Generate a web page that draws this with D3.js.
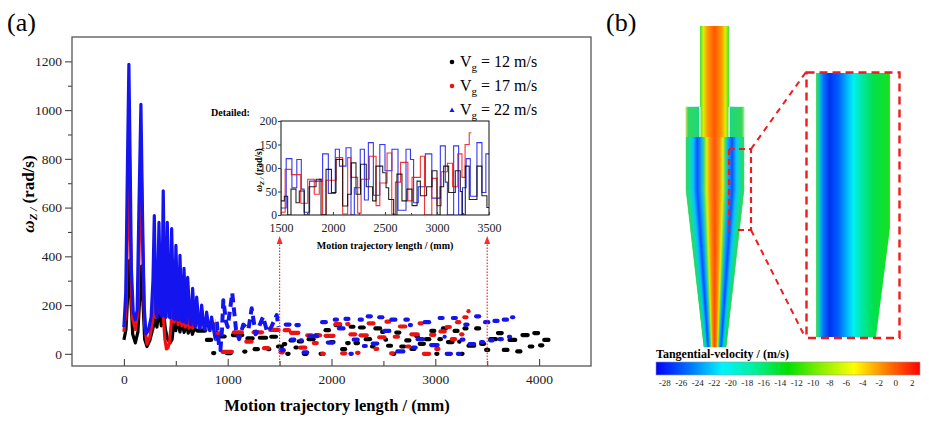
<!DOCTYPE html>
<html>
<head>
<meta charset="UTF-8">
<title>Particle angular velocity and tangential velocity</title>
<script src="https://d3js.org/d3.v7.min.js"></script>
<style>
  body { margin: 0; padding: 0; background: #fff; }
  svg { display: block; font-family: "Liberation Serif", "Times New Roman", serif; }
</style>
</head>
<body>
<script>
// ---- data ----
// smooth start of each trajectory (mm, rad/s)
const early12 = [[0,57],[20,100],[38,250],[55,384],[70,200],[85,80],[110,45],[135,90],[155,250],[170,360],[185,200],[200,60],[222,30],[250,55],[280,105],[300,140],[318,110],[340,185],[360,115],[380,180],[400,100],[420,60],[445,45],[465,60],[485,150],[500,95],[520,145],[540,90],[560,135],[580,88],[600,125],[620,85],[640,115],[660,80],[680,105],[700,95]];
const early17 = [[0,90],[20,180],[38,600],[50,930],[62,500],[80,150],[110,100],[135,170],[152,550],[165,830],[180,450],[200,120],[222,40],[250,70],[280,140],[295,250],[312,150],[330,290],[345,170],[362,300],[380,150],[395,60],[410,20],[425,25],[440,50],[455,120],[470,250],[485,130],[505,230],[522,120],[540,200],[558,115],[575,180],[592,110],[610,165],[628,105],[645,150],[662,105],[680,140],[700,120]];
const early22 = [[0,110],[18,250],[35,800],[48,1188],[60,800],[72,350],[90,170],[110,140],[128,180],[145,600],[164,1024],[180,550],[195,200],[212,82],[235,95],[262,150],[280,300],[293,567],[308,170],[320,150],[338,539],[355,160],[365,155],[379,669],[395,155],[405,150],[418,539],[438,150],[445,148],[460,514],[480,145],[488,142],[501,445],[520,140],[528,138],[540,404],[560,135],[566,132],[579,351],[597,128],[603,126],[614,314],[640,122],[648,120],[662,269],[683,115],[690,112],[701,233],[725,108],[735,105],[749,200],[772,102],[782,100],[797,171],[820,98],[830,95],[845,151],[868,90],[880,60],[893,139],[915,40],[930,16],[945,100],[958,220],[985,130],[1000,110],[1044,249],[1080,100],[1110,60],[1150,120],[1200,100],[1231,187],[1270,80],[1300,110],[1341,152],[1380,90],[1420,110],[1472,159],[1490,110]];

// plateau levels later on: value holds from x until the next x
const wave12 = [[700,95],[790,57],[850,3],[880,71],[980,3],[1040,77],[1150,9],[1180,63],[1250,19],[1300,66],[1380,19],[1410,70],[1475,30],[1532,40],[1564,0],[1596,55],[1644,26],[1676,51],[1724,0],[1770,60],[1837,76],[1885,0],[1933,97],[1985,48],[2029,118],[2093,19],[2141,44],[2175,111],[2221,44],[2265,108],[2320,60],[2381,30],[2413,104],[2478,90],[2510,58],[2535,33],[2583,0],[2615,87],[2663,30],[2711,55],[2760,20],[2808,72],[2840,41],[2900,60],[2952,94],[3000,0],[3030,60],[3064,104],[3112,48],[3176,94],[3224,50],[3240,0],[3272,104],[3310,33],[3384,104],[3432,41],[3480,16],[3520,60],[3594,85],[3650,16],[3705,57],[3780,10],[3830,77],[3900,30],[3944,85],[4000,35],[4040,57],[4100,57]];
const wave17 = [[720,125],[800,122],[870,84],[940,8],[1050,88],[1170,50],[1240,88],[1340,23],[1400,98],[1500,6],[1540,97],[1600,86],[1690,25],[1757,76],[1820,44],[1868,76],[1900,0],[1933,74],[2029,122],[2093,2],[2141,122],[2173,80],[2237,4],[2270,76],[2349,125],[2414,20],[2450,68],[2520,132],[2565,2],[2600,70],[2650,112],[2720,30],[2760,80],[2840,125],[2880,0],[2950,78],[3000,20],[3040,92],[3100,110],[3150,60],[3200,130],[3240,80],[3270,150],[3310,175],[3330,175]];
const wave22 = [[1500,15],[1550,120],[1605,58],[1652,118],[1695,55],[1722,6],[1775,72],[1900,130],[1955,46],[2022,140],[2062,104],[2125,143],[2173,0],[2205,58],[2262,140],[2302,32],[2340,154],[2388,42],[2450,150],[2500,94],[2567,140],[2625,10],[2702,140],[2745,118],[2775,26],[2820,60],[2888,130],[2950,36],[3032,147],[3080,70],[3100,0],[3160,147],[3208,0],[3245,58],[3280,120],[3320,40],[3384,154],[3432,48],[3470,130],[3520,55],[3560,135],[3610,60],[3650,140],[3700,70],[3730,150],[3760,150]];

const speeds = ["12", "17", "22"];
const colors = ["#000000", "#ee1111", "#1414ee"];

const xTicks = [0, 1000, 2000, 3000, 4000];
const xMinor = [500, 1500, 2500, 3500];
const yTicks = [0, 200, 400, 600, 800, 1000, 1200];
const yMinor = [100, 300, 500, 700, 900, 1100];
const insetXTicks = [1500, 2000, 2500, 3000, 3500];
const insetXMinor = [1750, 2250, 2750, 3250];
const insetYTicks = [0, 50, 100, 150, 200];

const cbTicks = [-28, -26, -24, -22, -20, -18, -16, -14, -12, -10, -8, -6, -4, -2, 0, 2];
const cbStops = [[-29,"#0000ff"],[-25,"#0070ff"],[-21,"#00f4ff"],[-17,"#00f09a"],[-13,"#00e000"],[-9,"#88f000"],[-5,"#ffff00"],[-1,"#ff7a00"],[3,"#ff0000"]];
const bodyStops = [[0,"#30d050"],[0.07,"#00e0a0"],[0.13,"#00c0ff"],[0.2,"#0048ff"],[0.27,"#00a8ff"],[0.32,"#40e060"],[0.36,"#e0f000"],[0.42,"#ff8a00"],[0.5,"#ff4a00"],[0.58,"#ff8a00"],[0.64,"#e0f000"],[0.68,"#40e060"],[0.73,"#00a8ff"],[0.8,"#0048ff"],[0.87,"#00c0ff"],[0.93,"#00e0a0"],[1,"#30d050"]];
const tubeStops = [[0,"#40e040"],[0.12,"#d8f000"],[0.26,"#ff9800"],[0.5,"#ff5800"],[0.74,"#ff9800"],[0.88,"#d8f000"],[1,"#40e040"]];
const zoomStops = [[0,"#60d840"],[0.04,"#00d0d0"],[0.1,"#0070ff"],[0.18,"#0034f0"],[0.3,"#0060ff"],[0.44,"#00c8ff"],[0.5,"#00f0f0"],[0.62,"#00e8a0"],[0.76,"#00e050"],[0.97,"#18e020"],[1,"#f0a000"]];

const width = 929, height = 423;
const serif = "Liberation Serif, Times New Roman, serif";
const plain = d => String(d);

const svg = d3.select("body").append("svg")
  .attr("width", width)
  .attr("height", height);

const defs = svg.append("defs");

// ---- panel (a) ----
const x = d3.scaleLinear().domain([-500, 4500]).range([72, 591]);
const y = d3.scaleLinear().domain([-50, 1300]).range([366, 37]);

defs.append("clipPath").attr("id", "solidPart").append("rect")
  .attr("x", 72).attr("y", 37).attr("width", x(880) - 72).attr("height", 329);
defs.append("clipPath").attr("id", "dashPart").append("rect")
  .attr("x", x(880)).attr("y", 37).attr("width", 591 - x(880)).attr("height", 329);

function styleAxis(g, size) {
  g.attr("font-family", serif);
  g.select(".domain").remove();
  g.selectAll(".tick line").attr("stroke", "#444").attr("stroke-width", 1.1);
  g.selectAll(".tick text").attr("font-size", size).attr("fill", "#222");
}

svg.append("g").attr("transform", "translate(0,366)")
  .call(d3.axisBottom(x).tickValues(xTicks).tickFormat(plain).tickSize(-7).tickPadding(8))
  .call(g => styleAxis(g, 13.5));
svg.append("g").attr("transform", "translate(0,366)")
  .call(d3.axisBottom(x).tickValues(xMinor).tickSize(-5).tickFormat(""))
  .call(g => styleAxis(g, 13.5));
svg.append("g").attr("transform", "translate(72,0)")
  .call(d3.axisLeft(y).tickValues(yTicks).tickFormat(plain).tickSize(7).tickPadding(3))
  .call(g => styleAxis(g, 13.5));
svg.append("g").attr("transform", "translate(72,0)")
  .call(d3.axisLeft(y).tickValues(yMinor).tickSize(4).tickFormat(""))
  .call(g => styleAxis(g, 13.5));

const series = [
  { early: early12, wave: wave12 },
  { early: early17, wave: wave17 },
  { early: early22, wave: wave22 }
];

const lineMain = d3.line().x(d => x(d[0])).y(d => y(d[1]));

series.forEach((s, i) => {
  const g = svg.append("g");
  g.append("path").datum(s.early)
    .attr("d", lineMain)
    .attr("clip-path", "url(#solidPart)")
    .attr("fill", "none").attr("stroke", colors[i])
    .attr("stroke-width", 3.2).attr("stroke-linejoin", "round");
  g.append("path").datum(s.early)
    .attr("d", lineMain)
    .attr("clip-path", "url(#dashPart)")
    .attr("fill", "none").attr("stroke", colors[i])
    .attr("stroke-width", 4).attr("stroke-dasharray", "9,5")
    .attr("stroke-linejoin", "round");
  g.selectAll("line.plateau")
    .data(d3.pairs(s.wave))
    .join("line")
    .attr("class", "plateau")
    .attr("x1", d => x(d[0][0]) + 1)
    .attr("x2", d => x(d[1][0]) - 1)
    .attr("y1", d => y(d[0][1]))
    .attr("y2", d => y(d[0][1]))
    .attr("stroke", colors[i])
    .attr("stroke-width", 4.2)
    .attr("stroke-linecap", "round")
    .attr("stroke-dasharray", d => x(d[1][0]) - x(d[0][0]) > 12 ? "8,5" : null);
});

// frame
svg.append("rect")
  .attr("x", 72).attr("y", 37).attr("width", 519).attr("height", 329)
  .attr("fill", "none").attr("stroke", "#555").attr("stroke-width", 1.3);

// red dotted arrows marking the detailed range
[1500, 3500].forEach(v => {
  svg.append("line")
    .attr("x1", x(v)).attr("x2", x(v))
    .attr("y1", 366).attr("y2", 242)
    .attr("stroke", "#ff2a2a").attr("stroke-width", 1.2)
    .attr("stroke-dasharray", "1.5,1.5");
  svg.append("path")
    .attr("d", `M${x(v) - 3},${244} L${x(v) + 3},${244} L${x(v)},${236} Z`)
    .attr("fill", "#ff2a2a");
});

// axis titles
svg.append("text")
  .attr("x", 337).attr("y", 411)
  .attr("text-anchor", "middle")
  .attr("font-size", 16.5).attr("font-weight", "bold")
  .text("Motion trajectory length / (mm)");

const yTitle = svg.append("text")
  .attr("transform", "translate(34,194) rotate(-90)")
  .attr("text-anchor", "middle")
  .attr("font-size", 17).attr("font-weight", "bold");
yTitle.append("tspan").attr("font-style", "italic").text("ω");
yTitle.append("tspan").attr("font-style", "italic").attr("font-size", 11).attr("dy", 3).text("Z /");
yTitle.append("tspan").attr("dy", -3).text(" (rad/s)");

svg.append("text").attr("x", 7).attr("y", 31).attr("font-size", 26).text("(a)");

// legend
const legendY = [62, 86, 110];
speeds.forEach((v, i) => {
  if (i === 2) {
    svg.append("path")
      .attr("d", `M449.5,${legendY[i] + 2} L454.5,${legendY[i] + 2} L452,${legendY[i] - 2.5} Z`)
      .attr("fill", colors[i]);
  } else {
    svg.append("circle").attr("cx", 452).attr("cy", legendY[i]).attr("r", 2.3).attr("fill", colors[i]);
  }
  const t = svg.append("text").attr("x", 460).attr("y", legendY[i] + 5).attr("font-size", 16);
  t.append("tspan").text("V");
  t.append("tspan").attr("font-size", 11).attr("dy", 4).text("g");
  t.append("tspan").attr("dy", -4).text(` = ${v} m/s`);
});

// ---- inset ----
const xi = d3.scaleLinear().domain([1500, 3500]).range([281, 489]);
const yi = d3.scaleLinear().domain([0, 200]).range([215, 121]);

defs.append("clipPath").attr("id", "insetClip").append("rect")
  .attr("x", 281).attr("y", 121).attr("width", 208).attr("height", 94);

svg.append("rect").attr("x", 281).attr("y", 121).attr("width", 208).attr("height", 94).attr("fill", "#fff");

const lineInset = d3.line().curve(d3.curveStepAfter).x(d => xi(d[0])).y(d => yi(d[1]));
const insetG = svg.append("g").attr("clip-path", "url(#insetClip)");
[2, 1, 0].forEach(i => {
  insetG.append("path").datum(series[i].wave)
    .attr("d", lineInset)
    .attr("fill", "none").attr("stroke", colors[i])
    .attr("stroke-width", 1.1).attr("stroke-opacity", 0.85);
});

svg.append("rect").attr("x", 281).attr("y", 121).attr("width", 208).attr("height", 94)
  .attr("fill", "none").attr("stroke", "#111").attr("stroke-width", 1);

svg.append("g").attr("transform", "translate(0,215)")
  .call(d3.axisBottom(xi).tickValues(insetXTicks).tickFormat(plain).tickSize(-3).tickPadding(8))
  .call(g => styleAxis(g, 12));
svg.append("g").attr("transform", "translate(0,215)")
  .call(d3.axisBottom(xi).tickValues(insetXMinor).tickSize(-2).tickFormat(""))
  .call(g => styleAxis(g, 12));
svg.append("g").attr("transform", "translate(281,0)")
  .call(d3.axisLeft(yi).tickValues(insetYTicks).tickFormat(plain).tickSize(3).tickPadding(1))
  .call(g => styleAxis(g, 11.5));

svg.append("text").attr("x", 385).attr("y", 249)
  .attr("text-anchor", "middle").attr("font-size", 10).attr("font-weight", "bold")
  .text("Motion trajectory length / (mm)");
svg.append("text").attr("x", 211).attr("y", 116)
  .attr("font-size", 10).attr("font-weight", "bold")
  .text("Detailed:");
const yiTitle = svg.append("text")
  .attr("transform", "translate(262,170) rotate(-90)")
  .attr("text-anchor", "middle")
  .attr("font-size", 9.5).attr("font-weight", "bold");
yiTitle.append("tspan").attr("font-style", "italic").text("ω");
yiTitle.append("tspan").attr("font-style", "italic").attr("font-size", 6.5).attr("dy", 2).text("Z /");
yiTitle.append("tspan").attr("dy", -2).text(" (rad/s)");

// ---- panel (b) ----
svg.append("text").attr("x", 606).attr("y", 31).attr("font-size", 26).text("(b)");

function addGradient(id, stops, x1, x2) {
  const gr = defs.append("linearGradient").attr("id", id)
    .attr("gradientUnits", "userSpaceOnUse")
    .attr("x1", x1).attr("x2", x2).attr("y1", 0).attr("y2", 0);
  stops.forEach(s => gr.append("stop").attr("offset", s[0]).attr("stop-color", s[1]));
}

// cyclone body as strips that follow the taper
const bodyColor = d3.scaleLinear().domain(bodyStops.map(d => d[0])).range(bodyStops.map(d => d[1]));
const outline = { y: [107, 190, 347], l: [686, 686, 704], r: [744, 744, 726] };
const strips = d3.range(90).map(k => [k / 90, (k + 1) / 90]);
const bodyG = svg.append("g");
bodyG.selectAll("path").data(strips).join("path")
  .attr("d", d => {
    const down = outline.y.map((yy, j) => [outline.l[j] + d[0] * (outline.r[j] - outline.l[j]), yy]);
    const up = outline.y.map((yy, j) => [outline.l[j] + d[1] * (outline.r[j] - outline.l[j]), yy]).reverse();
    return "M" + down.concat(up).map(p => p.join(",")).join("L") + "Z";
  })
  .attr("fill", d => bodyColor((d[0] + d[1]) / 2))
  .attr("stroke", d => bodyColor((d[0] + d[1]) / 2))
  .attr("stroke-width", 0.4);

// annulus around the vortex finder
addGradient("annL", [[0, "#c8e060"], [0.15, "#30d860"], [0.85, "#20d878"], [1, "#10c8a0"]], 686, 700);
addGradient("annR", [[0, "#10c8a0"], [0.15, "#20d878"], [0.85, "#30d860"], [1, "#c8e060"]], 729, 744);
svg.append("rect").attr("x", 686).attr("y", 107).attr("width", 14).attr("height", 30).attr("fill", "url(#annL)");
svg.append("rect").attr("x", 729).attr("y", 107).attr("width", 15).attr("height", 30).attr("fill", "url(#annR)");

// vortex finder
addGradient("tube", tubeStops, 700, 729);
svg.append("rect").attr("x", 700).attr("y", 26).attr("width", 29).attr("height", 111)
  .attr("fill", "url(#tube)");
svg.append("line").attr("x1", 699.8).attr("x2", 699.8).attr("y1", 107).attr("y2", 137).attr("stroke", "#fff").attr("stroke-width", 1.4);
svg.append("line").attr("x1", 729.2).attr("x2", 729.2).attr("y1", 107).attr("y2", 137).attr("stroke", "#fff").attr("stroke-width", 1.4);

// small dashed window, connectors and enlarged view
const red = "#ee1c1c";
svg.append("path")
  .attr("d", "M729,149 L751,149 L751,230 L735,230 M729,149 L729,232")
  .attr("fill", "none").attr("stroke", red).attr("stroke-width", 2.2).attr("stroke-dasharray", "6,4");
svg.append("path")
  .attr("d", "M751,149 L806,72 M751,230 L805,337")
  .attr("fill", "none").attr("stroke", red).attr("stroke-width", 2).attr("stroke-dasharray", "6,5");

addGradient("zoomGrad", zoomStops, 816, 891);
svg.append("path")
  .attr("d", "M816,73 L890,73 L890,228 L876,337 L816,337 Z")
  .attr("fill", "url(#zoomGrad)");
svg.append("rect").attr("x", 806.5).attr("y", 72.5).attr("width", 93).attr("height", 265.5)
  .attr("fill", "none").attr("stroke", red).attr("stroke-width", 2.4).attr("stroke-dasharray", "8,5");

// colour bar
const cb = d3.scaleLinear().domain([-29, 3]).range([656, 920]);
addGradient("cbGrad", cbStops.map(d => [(d[0] + 29) / 32, d[1]]), 656, 920);
svg.append("rect").attr("x", 656).attr("y", 362).attr("width", 264).attr("height", 13)
  .attr("fill", "url(#cbGrad)").attr("stroke", "#999").attr("stroke-width", 0.6);
svg.append("g").attr("transform", "translate(0,375)")
  .call(d3.axisBottom(cb).tickValues(cbTicks).tickFormat(plain).tickSize(0).tickPadding(5))
  .call(g => styleAxis(g, 9));
svg.append("text").attr("x", 656).attr("y", 358)
  .attr("font-size", 12).attr("font-weight", "bold")
  .text("Tangential-velocity / (m/s)");
</script>
</body>
</html>
